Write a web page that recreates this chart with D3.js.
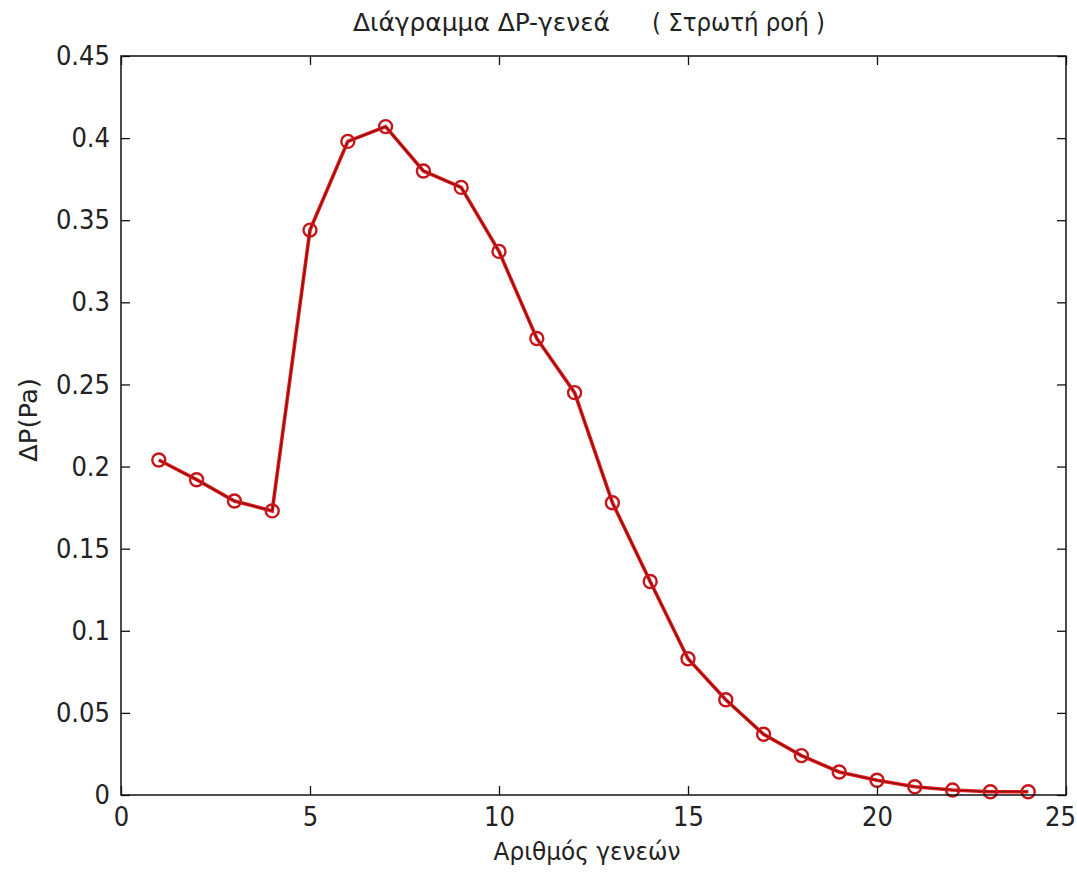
<!DOCTYPE html>
<html>
<head>
<meta charset="utf-8">
<script src="https://cdn.jsdelivr.net/npm/d3@7"></script>
<style>
  body { margin: 0; background: #fff; }
  text { font-family: "Liberation Sans Narrow", "DejaVu Sans Condensed", "Liberation Sans", sans-serif; fill: #222; }
</style>
</head>
<body>
<svg id="chart" width="1077" height="872"></svg>
<script>
// generations and pressure drop
var generations = [1,2,3,4,5,6,7,8,9,10,11,12,13,14,15,16,17,18,19,20,21,22,23,24];
var deltaP = [0.204,0.192,0.179,0.173,0.344,0.398,0.407,0.380,0.370,0.331,0.278,0.245,
              0.178,0.130,0.083,0.058,0.037,0.024,0.014,0.009,0.005,0.003,0.002,0.002];
var xTicks = [0,5,10,15,20,25];
var yTicks = [0,0.05,0.1,0.15,0.2,0.25,0.3,0.35,0.4,0.45];

var svg = d3.select("#chart");
var plotL = 121, plotR = 1066, plotT = 56, plotB = 795;

var x = d3.scaleLinear().domain([0,25]).range([plotL,plotR]);
var y = d3.scaleLinear().domain([0,0.45]).range([plotB,plotT]);

var data = generations.map(function(g, i) { return {g: g, v: deltaP[i]}; });

var line = d3.line()
    .x(function(d) { return x(d.g); })
    .y(function(d) { return y(d.v); });

// plotted series: bright red wide line with a dark thin one over it
svg.append("path")
    .datum(data)
    .attr("d", line)
    .attr("fill", "none")
    .attr("stroke", "#e81818")
    .attr("stroke-width", 3.6);

svg.append("path")
    .datum(data)
    .attr("d", line)
    .attr("fill", "none")
    .attr("stroke", "#6e1414")
    .attr("stroke-width", 1.1);

svg.selectAll("circle.m")
    .data(data)
  .enter().append("circle")
    .attr("class", "m")
    .attr("cx", function(d) { return x(d.g); })
    .attr("cy", function(d) { return y(d.v); })
    .attr("r", 6.5)
    .attr("fill", "none")
    .attr("stroke", "#c4161b")
    .attr("stroke-width", 2.4);

// axes, matlab style box with inward ticks
var fmt = function(d) { return d === 0 ? "0" : String(+d.toFixed(2)); };

var xAxis = svg.append("g")
    .attr("transform", "translate(0," + plotB + ")")
    .call(d3.axisBottom(x).tickValues(xTicks).tickSize(-9).tickPadding(12).tickFormat(fmt))
    .call(function(g) { g.select(".domain").remove(); });

svg.append("g")
    .attr("transform", "translate(0," + plotT + ")")
    .call(d3.axisTop(x).tickValues(xTicks).tickSize(-9).tickFormat(""))
    .call(function(g) { g.select(".domain").remove(); });

svg.append("g")
    .attr("transform", "translate(" + plotL + ",0)")
    .call(d3.axisLeft(y).tickValues(yTicks).tickSize(-9).tickPadding(11).tickFormat(fmt))
    .call(function(g) { g.select(".domain").remove(); });

svg.append("g")
    .attr("transform", "translate(" + plotR + ",0)")
    .call(d3.axisRight(y).tickValues(yTicks).tickSize(-9).tickFormat(""))
    .call(function(g) { g.select(".domain").remove(); });

svg.selectAll(".tick line").attr("stroke", "#111").attr("stroke-width", 1.3);
svg.selectAll(".tick text").style("font-size", "27px").attr("fill", "#222");

// last x label sits a little inside the window edge, as in the original
xAxis.selectAll(".tick text").filter(function(d) { return d === 25; }).attr("dx", -6);

svg.append("rect")
    .attr("x", plotL).attr("y", plotT)
    .attr("width", plotR - plotL).attr("height", plotB - plotT)
    .attr("fill", "none")
    .attr("stroke", "#111")
    .attr("stroke-width", 1.5);

// title: two parts separated by a wide gap as in the original
var title = svg.append("text")
    .attr("y", 31)
    .attr("xml:space", "preserve")
    .style("white-space", "pre")
    .style("font-size", "24px");
title.append("tspan").attr("x", 353)
    .attr("textLength", 257).attr("lengthAdjust", "spacingAndGlyphs")
    .text("Διάγραμμα ΔP-γενεά");
title.append("tspan").attr("x", 652)
    .attr("textLength", 173).attr("lengthAdjust", "spacingAndGlyphs")
    .text("( Στρωτή ροή )");

svg.append("text")
    .attr("x", 587)
    .attr("y", 860)
    .attr("text-anchor", "middle")
    .attr("textLength", 187)
    .attr("lengthAdjust", "spacingAndGlyphs")
    .style("font-size", "24px")
    .text("Αριθμός γενεών");

svg.append("text")
    .attr("transform", "translate(37,420) rotate(-90)")
    .attr("text-anchor", "middle")
    .attr("textLength", 84)
    .attr("lengthAdjust", "spacingAndGlyphs")
    .style("font-size", "24px")
    .text("ΔP(Pa)");
</script>
</body>
</html>
